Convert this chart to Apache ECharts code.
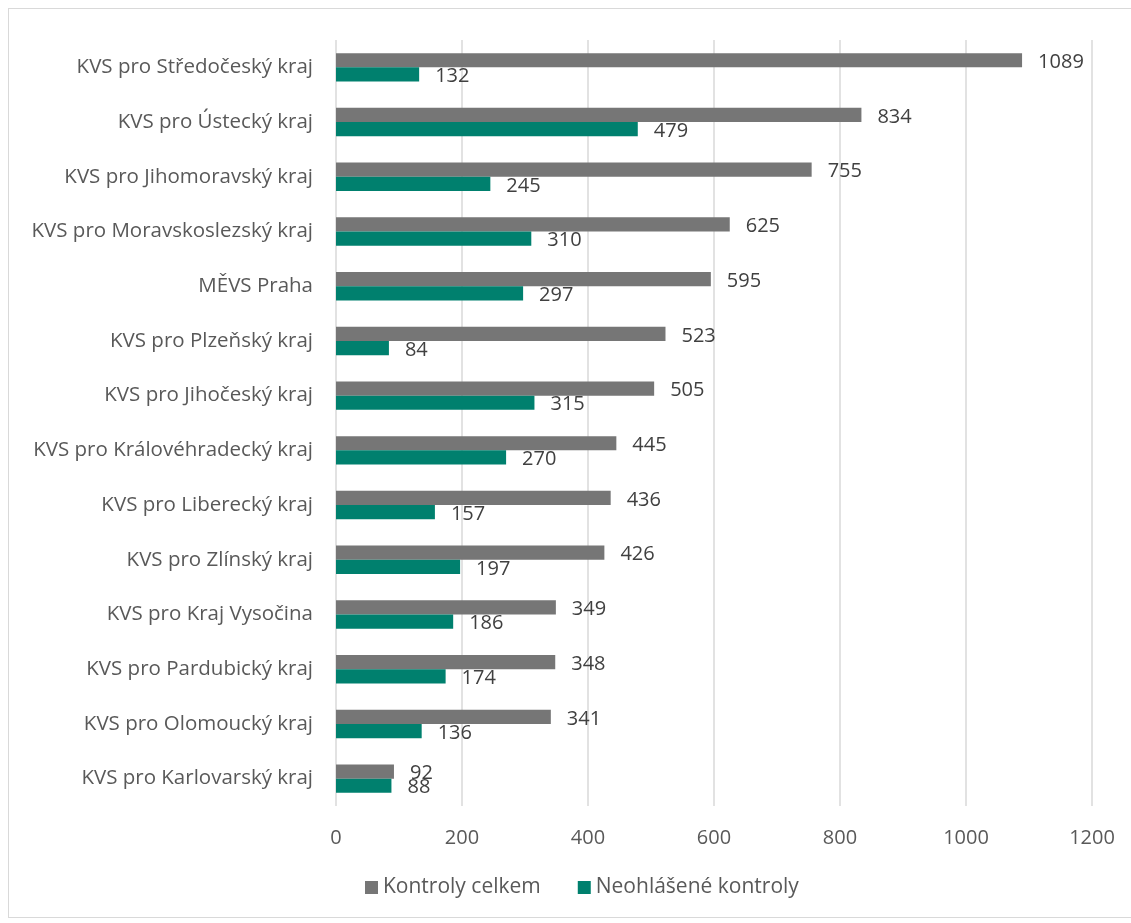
<!DOCTYPE html>
<html><head><meta charset="utf-8">
<script src="https://cdn.jsdelivr.net/npm/echarts@6/dist/echarts.min.js"></script>
<style>
html,body{margin:0;padding:0;background:#fff;}
#frame{position:absolute;left:8px;top:8px;width:1130px;height:910px;border:1px solid #d9d9d9;box-sizing:border-box;pointer-events:none;z-index:2;}
#chart{position:absolute;left:0;top:0;width:1131px;height:923px;}
</style></head>
<body>
<div id="chart"></div><div id="frame"></div>
<script>
const categories = ["KVS pro Středočeský kraj","KVS pro Ústecký kraj","KVS pro Jihomoravský kraj","KVS pro Moravskoslezský kraj","MĚVS Praha","KVS pro Plzeňský kraj","KVS pro Jihočeský kraj","KVS pro Královéhradecký kraj","KVS pro Liberecký kraj","KVS pro Zlínský kraj","KVS pro Kraj Vysočina","KVS pro Pardubický kraj","KVS pro Olomoucký kraj","KVS pro Karlovarský kraj"];
const kontrolyCelkem = [1089,834,755,625,595,523,505,445,436,426,349,348,341,92];
const neohlaseneKontroly = [132,479,245,310,297,84,315,270,157,197,186,174,136,88];
const seriesNames = ["Kontroly celkem","Neohlášené kontroly"];
const xTicks = {min:0,max:1200,interval:200};

const font = "'Open Sans', 'Liberation Sans', sans-serif";
const chart = echarts.init(document.getElementById('chart'), null, {renderer:'canvas'});
chart.setOption({
  animation:false,
  textStyle:{fontFamily:font},
  grid:{left:336,right:39,top:40,bottom:117,containLabel:false},
  legend:{
    bottom:20,left:360,itemWidth:13,itemHeight:13,itemGap:37,
    icon:'rect',
    textStyle:{fontFamily:font,fontSize:21,color:'#595959'},
    data:seriesNames
  },
  xAxis:{
    type:'value',min:xTicks.min,max:xTicks.max,interval:xTicks.interval,
    axisLine:{show:false},axisTick:{show:false},
    splitLine:{show:true,lineStyle:{color:'#d9d9d9',width:1.5}},
    axisLabel:{fontFamily:font,fontSize:20,color:'#595959',margin:22,formatter:function(v){return String(v);}}
  },
  yAxis:{
    type:'category',inverse:true,data:categories,
    axisLine:{show:false},axisTick:{show:false},
    axisLabel:{fontFamily:font,fontSize:20.5,color:'#595959',margin:23}
  },
  series:[
    {name:seriesNames[0],type:'bar',data:kontrolyCelkem,barGap:'0%',barCategoryGap:'48%',
     itemStyle:{color:'#767676'},
     label:{show:true,position:'right',distance:16,offset:[0,2],fontFamily:font,fontSize:20,color:'#404040'}},
    {name:seriesNames[1],type:'bar',data:neohlaseneKontroly,barGap:'0%',barCategoryGap:'48%',
     itemStyle:{color:'#00806e'},
     label:{show:true,position:'right',distance:16,offset:[0,2],fontFamily:font,fontSize:20,color:'#404040'}}
  ]
});
</script>
</body></html>
